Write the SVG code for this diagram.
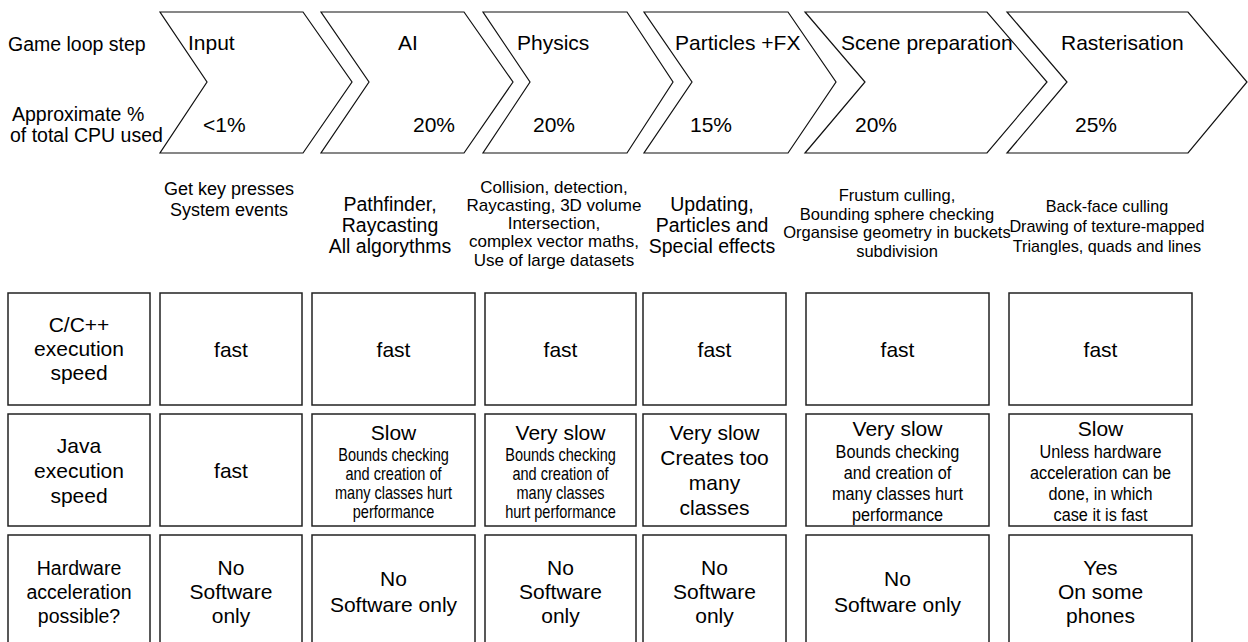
<svg xmlns="http://www.w3.org/2000/svg" width="1248" height="642" viewBox="0 0 1248 642">
  <style>
    text { font-family: "Liberation Sans", Arial, sans-serif; fill: #000; }
    .chev { fill: #fff; stroke: #111; stroke-width: 1.2; stroke-linejoin: miter; }
    .cell { fill: #fff; stroke: #222; stroke-width: 1.5; }
    .lbl { font-size: 19.5px; }
    .ttl { font-size: 21px; }
    .pct { font-size: 21px; }
    .desc { text-anchor: middle; }
    .big { font-size: 21px; text-anchor: middle; }
    .hw { font-size: 19.5px; text-anchor: middle; }
    .sm { font-size: 17.5px; text-anchor: middle; }
  </style>
  <rect width="1248" height="642" fill="#fff"/>

  <!-- row labels beside the chevrons -->
  <g id="row-labels">
    <text class="lbl" x="8" y="51">Game loop step</text>
    <text class="lbl" x="12" y="121">Approximate %</text>
    <text class="lbl" x="10" y="142">of total CPU used</text>
  </g>

  <!-- game loop steps -->
  <g id="step-input">
    <path class="chev" d="M160,12 H303 L352,82 L303,153 H160 L207,82 Z"/>
    <text class="ttl" x="188" y="50">Input</text>
    <text class="pct" x="203" y="131.5">&lt;1%</text>
    <text class="desc" font-size="18" x="229" y="195">
      <tspan x="229">Get key presses</tspan><tspan x="229" dy="20.5">System events</tspan>
    </text>
  </g>
  <g id="step-ai">
    <path class="chev" d="M321,12 H464 L513,82 L464,153 H321 L369,82 Z"/>
    <text class="ttl" x="398" y="50">AI</text>
    <text class="pct" x="413" y="131.5">20%</text>
    <text class="desc" font-size="19.5" x="390" y="211">
      <tspan x="390">Pathfinder,</tspan><tspan x="390" dy="21">Raycasting</tspan><tspan x="390" dy="21">All algorythms</tspan>
    </text>
  </g>
  <g id="step-physics">
    <path class="chev" d="M483,12 H627 L673,82 L627,153 H483 L530,82 Z"/>
    <text class="ttl" x="517" y="50">Physics</text>
    <text class="pct" x="533" y="131.5">20%</text>
    <text class="desc" font-size="17" x="554" y="192.5">
      <tspan x="554">Collision, detection,</tspan><tspan x="554" dy="18.3">Raycasting, 3D volume</tspan><tspan x="554" dy="18.3">Intersection,</tspan><tspan x="554" dy="18.3">complex vector maths,</tspan><tspan x="554" dy="18.3">Use of large datasets</tspan>
    </text>
  </g>
  <g id="step-particles">
    <path class="chev" d="M644,12 H788 L836,82 L788,153 H644 L692,82 Z"/>
    <text class="ttl" x="675" y="50">Particles +FX</text>
    <text class="pct" x="690" y="131.5">15%</text>
    <text class="desc" font-size="19.5" x="712" y="211">
      <tspan x="712">Updating,</tspan><tspan x="712" dy="21">Particles and</tspan><tspan x="712" dy="21">Special effects</tspan>
    </text>
  </g>
  <g id="step-scene">
    <path class="chev" d="M805,12 H987 L1047,82 L987,153 H805 L865,82 Z"/>
    <text class="ttl" x="841" y="50">Scene preparation</text>
    <text class="pct" x="855" y="131.5">20%</text>
    <text class="desc" font-size="16.5" x="897" y="201">
      <tspan x="897">Frustum culling,</tspan><tspan x="897" dy="18.5">Bounding sphere checking</tspan><tspan x="897" dy="18.5">Organsise geometry in buckets</tspan><tspan x="897" dy="18.5">subdivision</tspan>
    </text>
  </g>
  <g id="step-raster">
    <path class="chev" d="M1007,12 H1188 L1247,82 L1188,153 H1007 L1067,82 Z"/>
    <text class="ttl" x="1061" y="50">Rasterisation</text>
    <text class="pct" x="1075" y="131.5">25%</text>
    <text class="desc" font-size="16.2" x="1107" y="212">
      <tspan x="1107">Back-face culling</tspan><tspan x="1107" dy="20">Drawing of texture-mapped</tspan><tspan x="1107" dy="20">Triangles, quads and lines</tspan>
    </text>
  </g>

  <!-- comparison table: C/C++ speed -->
  <g id="row-cpp">
    <rect class="cell" x="8" y="293" width="142" height="112"/>
    <text class="big" x="79" y="332"><tspan x="79">C/C++</tspan><tspan x="79" dy="24">execution</tspan><tspan x="79" dy="24">speed</tspan></text>
    <rect class="cell" x="160" y="293" width="142" height="112"/>
    <text class="big" x="231" y="357">fast</text>
    <rect class="cell" x="312" y="293" width="163" height="112"/>
    <text class="big" x="393.5" y="357">fast</text>
    <rect class="cell" x="485" y="293" width="151" height="112"/>
    <text class="big" x="560.5" y="357">fast</text>
    <rect class="cell" x="643" y="293" width="143" height="112"/>
    <text class="big" x="714.5" y="357">fast</text>
    <rect class="cell" x="806" y="293" width="183" height="112"/>
    <text class="big" x="897.5" y="357">fast</text>
    <rect class="cell" x="1009" y="293" width="183" height="112"/>
    <text class="big" x="1100.5" y="357">fast</text>
  </g>

  <!-- comparison table: Java speed -->
  <g id="row-java">
    <rect class="cell" x="8" y="414" width="142" height="112"/>
    <text class="big" x="79" y="453"><tspan x="79">Java</tspan><tspan x="79" dy="25">execution</tspan><tspan x="79" dy="25">speed</tspan></text>
    <rect class="cell" x="160" y="414" width="142" height="112"/>
    <text class="big" x="231" y="478">fast</text>
    <rect class="cell" x="312" y="414" width="163" height="112"/>
    <text class="big" x="393.5" y="440">Slow</text>
    <text class="sm" transform="translate(393.5,0) scale(0.83,1)" x="0" y="461"><tspan x="0">Bounds checking</tspan><tspan x="0" dy="19">and creation of</tspan><tspan x="0" dy="19">many classes hurt</tspan><tspan x="0" dy="19">performance</tspan></text>
    <rect class="cell" x="485" y="414" width="151" height="112"/>
    <text class="big" x="560.5" y="440">Very slow</text>
    <text class="sm" transform="translate(560.5,0) scale(0.83,1)" x="0" y="461"><tspan x="0">Bounds checking</tspan><tspan x="0" dy="19">and creation of</tspan><tspan x="0" dy="19">many classes</tspan><tspan x="0" dy="19">hurt performance</tspan></text>
    <rect class="cell" x="643" y="414" width="143" height="112"/>
    <text class="big" x="714.5" y="440"><tspan x="714.5">Very slow</tspan><tspan x="714.5" dy="25">Creates too</tspan><tspan x="714.5" dy="25">many</tspan><tspan x="714.5" dy="25">classes</tspan></text>
    <rect class="cell" x="806" y="414" width="183" height="112"/>
    <text class="big" x="897.5" y="436">Very slow</text>
    <text class="sm" transform="translate(897.5,0) scale(0.93,1)" x="0" y="458"><tspan x="0">Bounds checking</tspan><tspan x="0" dy="21">and creation of</tspan><tspan x="0" dy="21">many classes hurt</tspan><tspan x="0" dy="21">performance</tspan></text>
    <rect class="cell" x="1009" y="414" width="183" height="112"/>
    <text class="big" x="1100.5" y="436">Slow</text>
    <text class="sm" transform="translate(1100.5,0) scale(0.93,1)" x="0" y="458"><tspan x="0">Unless hardware</tspan><tspan x="0" dy="21">acceleration can be</tspan><tspan x="0" dy="21">done, in which</tspan><tspan x="0" dy="21">case it is fast</tspan></text>
  </g>

  <!-- comparison table: hardware acceleration -->
  <g id="row-hw">
    <rect class="cell" x="8" y="535" width="142" height="130"/>
    <text class="hw" x="79" y="575"><tspan x="79">Hardware</tspan><tspan x="79" dy="24">acceleration</tspan><tspan x="79" dy="24">possible?</tspan></text>
    <rect class="cell" x="160" y="535" width="142" height="130"/>
    <text class="big" x="231" y="575"><tspan x="231">No</tspan><tspan x="231" dy="24">Software</tspan><tspan x="231" dy="24">only</tspan></text>
    <rect class="cell" x="312" y="535" width="163" height="130"/>
    <text class="big" x="393.5" y="586"><tspan x="393.5">No</tspan><tspan x="393.5" dy="26">Software only</tspan></text>
    <rect class="cell" x="485" y="535" width="151" height="130"/>
    <text class="big" x="560.5" y="575"><tspan x="560.5">No</tspan><tspan x="560.5" dy="24">Software</tspan><tspan x="560.5" dy="24">only</tspan></text>
    <rect class="cell" x="643" y="535" width="143" height="130"/>
    <text class="big" x="714.5" y="575"><tspan x="714.5">No</tspan><tspan x="714.5" dy="24">Software</tspan><tspan x="714.5" dy="24">only</tspan></text>
    <rect class="cell" x="806" y="535" width="183" height="130"/>
    <text class="big" x="897.5" y="586"><tspan x="897.5">No</tspan><tspan x="897.5" dy="26">Software only</tspan></text>
    <rect class="cell" x="1009" y="535" width="183" height="130"/>
    <text class="big" x="1100.5" y="575"><tspan x="1100.5">Yes</tspan><tspan x="1100.5" dy="24">On some</tspan><tspan x="1100.5" dy="24">phones</tspan></text>
  </g>
</svg>
